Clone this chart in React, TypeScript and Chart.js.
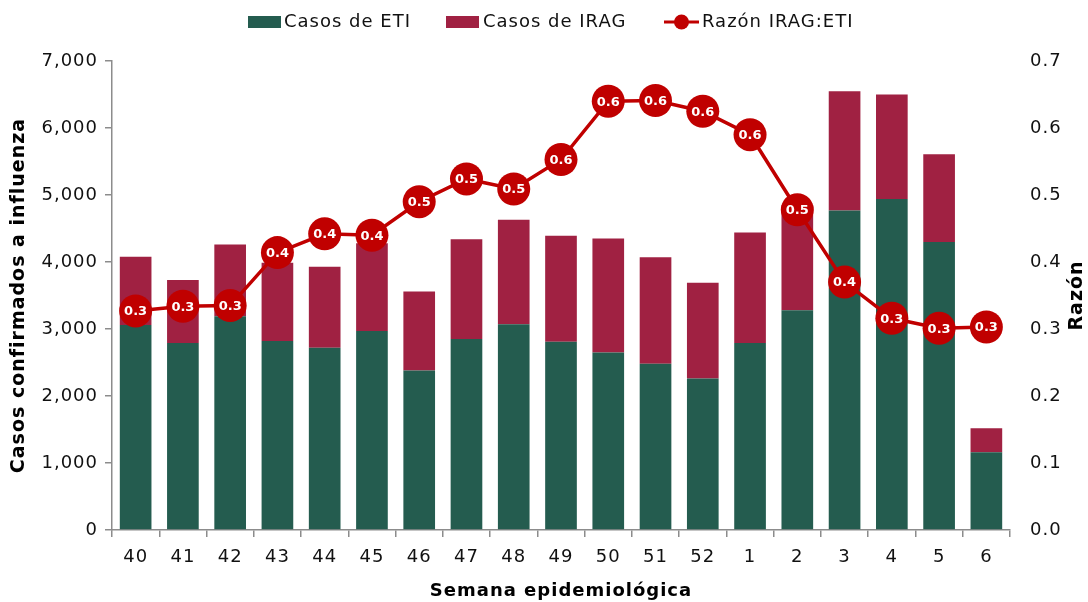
import React, { useEffect, useRef } from "react";
import { Chart, registerables } from "chart.js";

Chart.register(...registerables);

const weeks = ["40", "41", "42", "43", "44", "45", "46", "47", "48", "49", "50", "51", "52", "1", "2", "3", "4", "5", "6"];
const casosETI = [3060, 2790, 3190, 2820, 2720, 2970, 2380, 2850, 3070, 2810, 2650, 2480, 2260, 2790, 3280, 4770, 4940, 4300, 1160];
const casosIRAG = [1020, 940, 1070, 1170, 1210, 1310, 1180, 1490, 1560, 1580, 1700, 1590, 1430, 1650, 1570, 1780, 1560, 1310, 360];
const razon = [0.327, 0.334, 0.335, 0.414, 0.442, 0.44, 0.49, 0.524, 0.509, 0.553, 0.64, 0.641, 0.625, 0.59, 0.478, 0.37, 0.316, 0.301, 0.303];
const leftTicks = [0, 1000, 2000, 3000, 4000, 5000, 6000, 7000];
const rightTicks = [0, 0.1, 0.2, 0.3, 0.4, 0.5, 0.6, 0.7];

const GREEN = "#245C4F";
const MAROON = "#A02142";
const RED = "#C00000";
const FONT = "'DejaVu Sans', sans-serif";
const AXIS_GRAY = "#8C8C8C";

const spacingPlugin = {
  id: "spacing",
  beforeInit(chart: any) {
    chart.ctx.letterSpacing = "1px";
  },
  beforeUpdate(chart: any) {
    chart.ctx.letterSpacing = "1px";
  },
  beforeDraw(chart: any) {
    chart.ctx.letterSpacing = "1px";
  },
};

const overlayPlugin = {
  id: "overlay",
  afterDatasetsDraw(chart: any) {
    const ctx = chart.ctx;
    const meta = chart.getDatasetMeta(2);
    ctx.save();
    ctx.letterSpacing = "0px";
    ctx.fillStyle = "#FFFFFF";
    ctx.font = `bold 13px ${FONT}`;
    ctx.textAlign = "center";
    ctx.textBaseline = "middle";
    meta.data.forEach((pt: any, i: number) => {
      ctx.fillText(razon[i].toFixed(1), pt.x, pt.y + 1);
    });
    ctx.restore();
  },
  afterDraw(chart: any) {
    const ctx = chart.ctx;
    const area = chart.chartArea;
    ctx.save();
    ctx.letterSpacing = "1px";
    // legend
    ctx.font = `18px ${FONT}`;
    ctx.textBaseline = "middle";
    ctx.textAlign = "left";
    const ly = 22;
    ctx.fillStyle = GREEN;
    ctx.fillRect(248, ly - 6, 33, 12);
    ctx.fillStyle = "#111";
    ctx.fillText("Casos de ETI", 284, ly);
    ctx.fillStyle = MAROON;
    ctx.fillRect(446, ly - 6, 33, 12);
    ctx.fillStyle = "#111";
    ctx.fillText("Casos de IRAG", 483, ly);
    ctx.strokeStyle = RED;
    ctx.lineWidth = 3;
    ctx.beginPath();
    ctx.moveTo(664, ly);
    ctx.lineTo(699, ly);
    ctx.stroke();
    ctx.fillStyle = RED;
    ctx.beginPath();
    ctx.arc(681.5, ly, 7.5, 0, Math.PI * 2);
    ctx.fill();
    ctx.fillStyle = "#111";
    ctx.fillText("Razón IRAG:ETI", 702, ly);

    // axis titles
    ctx.fillStyle = "#000";
    ctx.textAlign = "center";
    const cy = (area.top + area.bottom) / 2;
    ctx.font = `bold 19px ${FONT}`;
    ctx.save();
    ctx.translate(19, cy);
    ctx.rotate(-Math.PI / 2);
    ctx.fillText("Casos confirmados a influenza", 0, 0);
    ctx.restore();
    ctx.save();
    ctx.translate(1077, cy);
    ctx.rotate(-Math.PI / 2);
    ctx.fillText("Razón", 0, 0);
    ctx.restore();
    ctx.font = `bold 18px ${FONT}`;
    ctx.fillText("Semana epidemiológica", (area.left + area.right) / 2, 591);
    ctx.restore();
  },
};

export default function App() {
  const canvasRef = useRef<HTMLCanvasElement | null>(null);

  useEffect(() => {
    if (!canvasRef.current) return;
    const chart = new Chart(canvasRef.current, {
      type: "bar",
      data: {
        labels: weeks,
        datasets: [
          {
            type: "bar",
            label: "Casos de ETI",
            data: casosETI,
            backgroundColor: GREEN,
            yAxisID: "y",
            stack: "s",
            order: 2,
            barPercentage: 0.67,
            categoryPercentage: 1,
          },
          {
            type: "bar",
            label: "Casos de IRAG",
            data: casosIRAG,
            backgroundColor: MAROON,
            yAxisID: "y",
            stack: "s",
            order: 2,
            barPercentage: 0.67,
            categoryPercentage: 1,
          },
          {
            type: "line",
            label: "Razón IRAG:ETI",
            data: razon,
            borderColor: RED,
            backgroundColor: RED,
            borderWidth: 3.5,
            pointRadius: 16.5,
            pointHoverRadius: 16.5,
            pointBackgroundColor: RED,
            pointBorderWidth: 0,
            yAxisID: "y1",
            order: 0,
          } as any,
        ],
      },
      options: {
        responsive: false,
        animation: false,
        layout: { padding: { top: 61, left: 0, right: 0, bottom: 0 } },
        plugins: {
          legend: { display: false },
          tooltip: { enabled: false },
        },
        scales: {
          x: {
            stacked: true,
            offset: true,
            grid: {
              display: true,
              drawOnChartArea: false,
              drawTicks: true,
              tickLength: 7,
              color: AXIS_GRAY,
              lineWidth: 1.5,
              offset: true,
            },
            border: { display: true, color: AXIS_GRAY, width: 1.5 },
            ticks: {
              color: "#111",
              font: { family: FONT, size: 18 },
              padding: 10,
              maxRotation: 0,
            },
            afterFit: (s: any) => {
              s.height = 72;
            },
          },
          y: {
            stacked: true,
            position: "left",
            min: 0,
            max: 7000,
            afterBuildTicks: (s: any) => {
              s.ticks = leftTicks.map((v) => ({ value: v }));
            },
            grid: {
              display: true,
              drawOnChartArea: false,
              drawTicks: true,
              tickLength: 7,
              color: AXIS_GRAY,
              lineWidth: 1.5,
            },
            border: { display: true, color: AXIS_GRAY, width: 1.5 },
            ticks: {
              color: "#111",
              font: { family: FONT, size: 18 },
              padding: 7,
              callback: (v: any) => Number(v).toLocaleString("en-US"),
            },
            afterFit: (s: any) => {
              s.width = 112;
            },
          },
          y1: {
            position: "right",
            min: 0,
            max: 0.7,
            afterBuildTicks: (s: any) => {
              s.ticks = rightTicks.map((v) => ({ value: v }));
            },
            grid: { display: false, drawOnChartArea: false, drawTicks: false },
            border: { display: false },
            ticks: {
              color: "#111",
              font: { family: FONT, size: 18 },
              padding: 20,
              callback: (v: any) => Number(v).toFixed(1),
            },
            afterFit: (s: any) => {
              s.width = 78;
            },
          },
        },
      },
      plugins: [spacingPlugin, overlayPlugin],
    });
    return () => chart.destroy();
  }, []);

  return (
    <div style={{ position: "fixed", left: 0, top: 0, width: 1088, height: 602, background: "#fff" }}>
      <canvas ref={canvasRef} width={1088} height={602} />
    </div>
  );
}
